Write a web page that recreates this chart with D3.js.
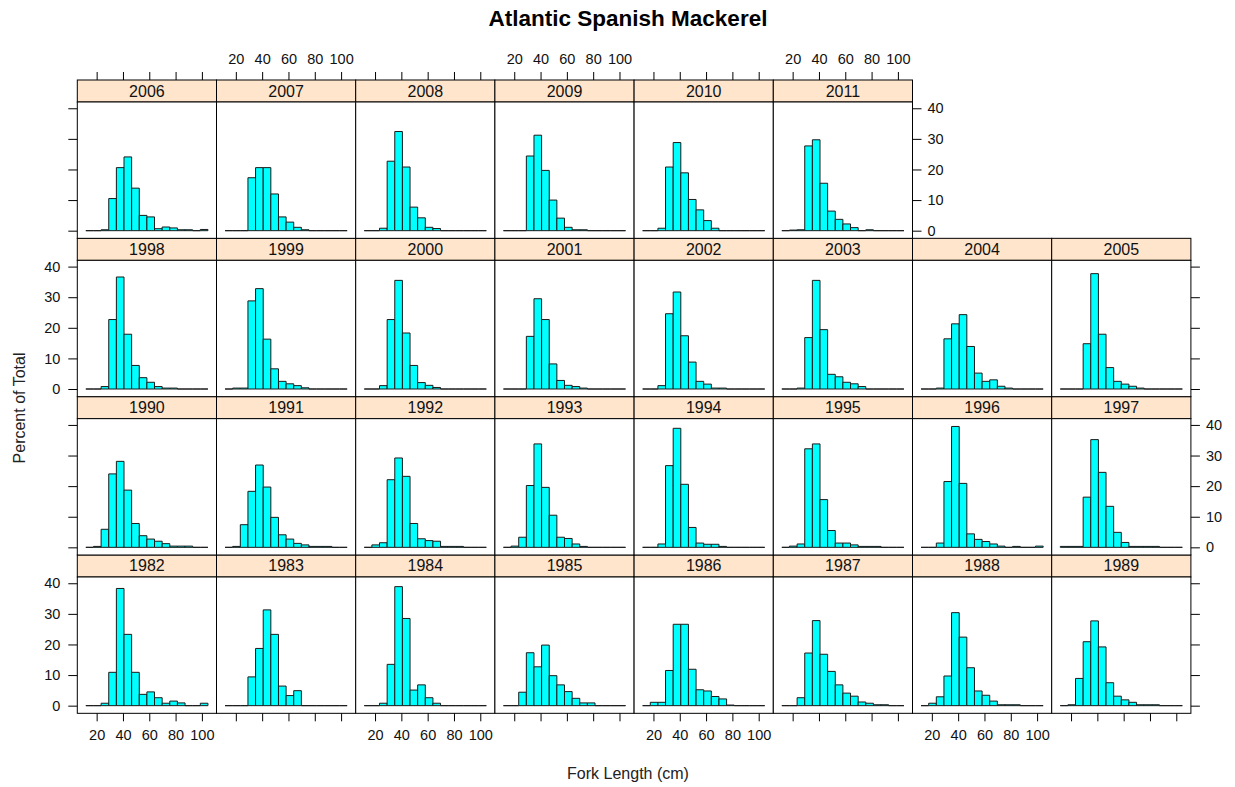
<!DOCTYPE html>
<html><head><meta charset="utf-8">
<script src="https://cdn.jsdelivr.net/npm/d3@7"></script>
<style>body{margin:0;background:#fff}svg{display:block;font-family:"Liberation Sans",Arial,sans-serif}</style>
</head><body><svg id="c" width="1235" height="787"></svg>
<script>
// Histogram bin edges (cm) shared by all panels
const breaks = [11.8, 17.6, 23.4, 29.2, 35.0, 40.8, 46.6, 52.4, 58.2, 64.0, 69.8, 75.6, 81.4, 87.2, 93.0, 98.8, 104.6];
const xTicks = [20, 40, 60, 80, 100];
const yTicks = [0, 10, 20, 30, 40];
const years = [1982,1983,1984,1985,1986,1987,1988,1989,1990,1991,1992,1993,1994,1995,1996,1997,
               1998,1999,2000,2001,2002,2003,2004,2005,2006,2007,2008,2009,2010,2011];

// Percent of total in each bin, per year
const pct1982 = [0,0,0.8,10.9,38.3,23.3,10.9,3.7,4.5,2.6,0.8,1.5,0.9,0,0,0.8];
const pct1983 = [0,0,0,9.4,18.7,31.3,23.3,6.4,3.3,4.9,0,0,0,0,0,0];
const pct1984 = [0,0,0.8,13.5,38.9,28.5,5.1,6.8,2.6,0.8,0,0,0,0,0,0];
const pct1985 = [0,0,4.4,17.3,12.7,19.8,9.8,6.8,4.6,2.4,0.9,0.9,0,0,0,0];
const pct1986 = [0,1.1,1.1,11.5,26.6,26.6,11.9,5.2,4.8,3.0,2.2,0.2,0,0,0,0];
const pct1987 = [0,0,2.6,17.2,27.8,16.8,11.2,6.8,4.1,3.1,1.2,0.8,0.3,0.3,0,0];
const pct1988 = [0,0.8,2.9,9.7,30.4,22.4,12.4,4.8,3.4,1.5,0.3,0.3,0.3,0,0,0];
const pct1989 = [0,0.3,8.9,20.9,27.7,19.2,7.5,3.1,1.9,1.1,0.3,0.3,0.3,0,0,0];
const pct1990 = [0,0.3,5.9,24.0,28.1,18.7,7.8,3.8,2.7,2.0,1.2,0.4,0.4,0.4,0,0];
const pct1991 = [0,0.3,7.4,18.3,26.9,19.7,9.8,4.1,2.7,1.3,0.8,0.3,0.3,0.3,0,0];
const pct1992 = [0,0.8,1.5,22.1,29.2,23.2,7.8,2.8,2.2,2.0,0.3,0.3,0.3,0,0,0];
const pct1993 = [0,0.4,3.3,20.2,33.8,19.6,10.5,3.3,2.9,1.1,0.3,0,0,0,0,0];
const pct1994 = [0,0,1.1,26.7,38.9,20.6,6.5,1.4,1.0,1.0,0.3,0,0,0,0,0];
const pct1995 = [0,0.4,1.1,32.2,33.8,15.6,5.5,1.4,1.4,0.8,0.3,0.3,0.3,0,0,0];
const pct1996 = [0,0,1.4,21.5,39.5,20.9,4.4,2.6,1.9,1.1,0.4,0,0.3,0,0,0.4];
const pct1997 = [0.3,0.3,0.3,16.4,35.2,24.5,13.4,4.9,1.6,0.3,0.3,0.3,0.3,0,0,0];
const pct1998 = [0,0,0.8,22.7,36.6,17.9,7.7,3.7,2.2,0.8,0.3,0.3,0,0,0,0];
const pct1999 = [0,0.3,0.3,28.8,32.8,16.3,6.6,2.5,1.7,1.1,0.4,0,0,0,0,0];
const pct2000 = [0,0,1.1,22.7,35.5,18.3,7.7,2.1,1.2,0.5,0,0,0,0,0,0];
const pct2001 = [0,0,0,17.2,29.5,22.7,8.2,2.8,1.2,0.8,0.3,0,0,0,0,0];
const pct2002 = [0,0,1.1,24.6,31.7,17.4,8.8,2.5,1.6,0.3,0.3,0,0,0,0,0];
const pct2003 = [0,0,0.3,16.8,35.5,19.4,4.8,4.0,2.2,1.7,0.8,0,0,0,0,0];
const pct2004 = [0,0,0.3,16.4,21.3,24.3,13.9,5.2,2.5,3.0,0.9,0.3,0,0,0,0];
const pct2005 = [0,0,0,14.8,37.7,17.9,7.0,2.5,1.6,0.9,0.3,0,0,0,0,0];
const pct2006 = [0,0,0.3,10.5,20.6,24.1,13.9,5.0,4.5,0.65,1.2,0.9,0.3,0.3,0,0.4];
const pct2007 = [0,0,0,17.3,20.6,20.6,12.0,4.5,2.8,1.1,0.3,0,0,0,0,0];
const pct2008 = [0,0,0.8,22.7,32.4,20.8,7.7,4.2,1.1,0.7,0,0,0,0,0,0];
const pct2009 = [0,0,0,24.4,31.2,19.7,10.0,4.1,1.1,0.3,0.3,0,0,0,0,0];
const pct2010 = [0,0,0.8,20.8,28.8,18.9,10.2,6.8,3.3,0.8,0,0,0,0,0,0];
const pct2011 = [0,0.2,0.3,27.7,29.7,15.5,6.4,3.7,2.2,1.0,0,0.3,0,0,0,0];

const pctList = [pct1982,pct1983,pct1984,pct1985,pct1986,pct1987,pct1988,pct1989,
  pct1990,pct1991,pct1992,pct1993,pct1994,pct1995,pct1996,pct1997,
  pct1998,pct1999,pct2000,pct2001,pct2002,pct2003,pct2004,pct2005,
  pct2006,pct2007,pct2008,pct2009,pct2010,pct2011];

const titleText = "Atlantic Spanish Mackerel";
const xLabel = "Fork Length (cm)";
const yLabel = "Percent of Total";

// ---- layout ----
const left0 = 77.3, colW = 139.2, top0 = 80, rowH = 158.33, stripH = 22;
const nCols = 8, nRows = 4;
const panelH = rowH - stripH;
const ink = "#000";
const tickFont = "14.5px";

const svg = d3.select("#c");
svg.append("rect").attr("width",1235).attr("height",787).attr("fill","#fff");

const x = d3.scaleLinear().domain([5.3, 111.1]).range([0, colW]);
const y = d3.scaleLinear().domain([-2.5, 42.05]).range([panelH, 0]);

const panels = years.map((yr, i) => ({
  year: yr, values: pctList[i],
  col: i % nCols, row: nRows - 1 - Math.floor(i / nCols)
}));

const rowLastCol = {};
panels.forEach(p => { rowLastCol[p.row] = Math.max(rowLastCol[p.row] ?? -1, p.col); });
const colTopRow = {};
panels.forEach(p => { colTopRow[p.col] = Math.min(colTopRow[p.col] ?? 99, p.row); });

const g = svg.selectAll("g.panel").data(panels).join("g")
  .attr("class","panel")
  .attr("transform", d => `translate(${left0 + d.col*colW},${top0 + d.row*rowH})`);

// strip
g.append("rect").attr("x",0).attr("y",0).attr("width",colW).attr("height",stripH)
  .attr("fill","#ffe5cc").attr("stroke",ink).attr("stroke-width",1);
g.append("text").attr("x",colW/2).attr("y",stripH/2+5.5)
  .attr("text-anchor","middle").attr("font-size","16px").attr("fill","#111")
  .text(d => d.year);

// panel
const pg = g.append("g").attr("transform",`translate(0,${stripH})`);
pg.append("rect").attr("width",colW).attr("height",panelH).attr("fill","#fff");

pg.each(function(d){
  const bins = d.values.map((v,k) => ({x0: breaks[k], x1: breaks[k+1], v}));
  d3.select(this).selectAll("path.bar").data(bins).join("path")
    .attr("class","bar")
    .attr("d", b => `M${x(b.x0)},${y(0)}V${y(b.v)}H${x(b.x1)}V${y(0)}Z`)
    .attr("fill","#00ffff").attr("stroke","#1a1a1a").attr("stroke-width",1);
});

pg.append("rect").attr("width",colW).attr("height",panelH)
  .attr("fill","none").attr("stroke",ink).attr("stroke-width",1);

// ---- axes ----
function styleAxis(sel){
  sel.select(".domain").remove();
  sel.selectAll(".tick line").attr("stroke",ink);
  sel.selectAll(".tick text").attr("fill","#111").attr("font-size",tickFont)
     .attr("font-family",'"Liberation Sans",Arial,sans-serif');
}

for (let r = 0; r < nRows; r++) {
  const show = (r % 2 === 1);
  const ax = d3.axisLeft(y).tickValues(yTicks).tickSize(9).tickPadding(8)
    .tickFormat(show ? d3.format("d") : () => "");
  svg.append("g").attr("transform",`translate(${left0},${top0 + r*rowH + stripH})`)
    .call(ax).call(styleAxis);
}
for (let r = 0; r < nRows; r++) {
  const show = (r % 2 === 0);
  const xr = left0 + (rowLastCol[r] + 1) * colW;
  const ax = d3.axisRight(y).tickValues(yTicks).tickSize(9).tickPadding(6)
    .tickFormat(show ? d3.format("d") : () => "");
  svg.append("g").attr("transform",`translate(${xr},${top0 + r*rowH + stripH})`)
    .call(ax).call(styleAxis);
}
for (let c = 0; c < nCols; c++) {
  if (colTopRow[c] !== 0) continue;
  const show = (c % 2 === 1);
  const ax = d3.axisTop(x).tickValues(xTicks).tickSize(8).tickPadding(8)
    .tickFormat(show ? d3.format("d") : () => "");
  svg.append("g").attr("transform",`translate(${left0 + c*colW},${top0})`)
    .call(ax).call(styleAxis);
}
for (let c = 0; c < nCols; c++) {
  const show = (c % 2 === 0);
  const ax = d3.axisBottom(x).tickValues(xTicks).tickSize(8).tickPadding(8)
    .tickFormat(show ? d3.format("d") : () => "");
  svg.append("g").attr("transform",`translate(${left0 + c*colW},${top0 + nRows*rowH})`)
    .call(ax).call(styleAxis);
}

// titles
svg.append("text").attr("x",628).attr("y",26).attr("text-anchor","middle")
  .attr("font-size","22.5px").attr("font-weight","bold").attr("fill","#000").text(titleText);
svg.append("text").attr("x",628).attr("y",779).attr("text-anchor","middle")
  .attr("font-size","16px").attr("fill","#222").text(xLabel);
svg.append("text").attr("transform","translate(25,408) rotate(-90)").attr("text-anchor","middle")
  .attr("font-size","16px").attr("fill","#222").text(yLabel);
</script></body></html>
